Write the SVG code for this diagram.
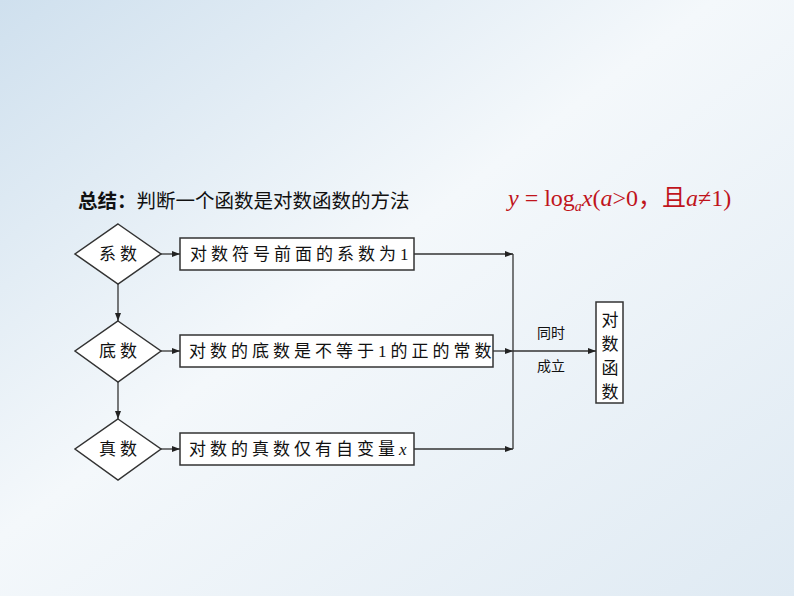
<svg xmlns="http://www.w3.org/2000/svg" width="794" height="596" viewBox="0 0 794 596">
<defs>
<linearGradient id="bg" x1="0" y1="0" x2="1" y2="1">
<stop offset="0" stop-color="#cfe0ee"/><stop offset="0.45" stop-color="#f4f8fb"/><stop offset="1" stop-color="#dfeaf3"/>
</linearGradient>
<marker id="ah" markerWidth="8" markerHeight="6" refX="8" refY="3" orient="auto" markerUnits="userSpaceOnUse"><path d="M0,0 L8,3 L0,6 Z" fill="#222"/></marker>
<style>
.s{fill:#fff;stroke:#333;stroke-width:1.5}
.t{font-family:"Liberation Serif","Noto Sans CJK SC",serif;font-size:17px;fill:#111;letter-spacing:4px}
.v{font-family:"Liberation Serif","Noto Sans CJK SC",serif;font-size:17px;fill:#111}
.c{stroke:#333;stroke-width:1.3;fill:none}
</style>
</defs>
<rect width="794" height="596" fill="url(#bg)"/>
<text x="78" y="208" font-family="'Noto Sans CJK SC',sans-serif" font-size="19.5" fill="#111"><tspan font-weight="bold">总结：</tspan>判断一个函数是对数函数的方法</text>
<text x="508" y="206" font-family="'Liberation Serif','Noto Sans CJK SC',serif" font-size="24" fill="#c0141c"><tspan font-style="italic">y</tspan> = log<tspan font-style="italic" font-size="14" dy="5">a</tspan><tspan font-style="italic" dy="-5">x</tspan>(<tspan font-style="italic">a</tspan>&gt;0，且<tspan font-style="italic">a</tspan>≠1)</text>
<g id="d1"><polygon class="s" points="118,224 161,254 118,284 75,254"/><text class="t" x="120" y="260" text-anchor="middle">系数</text></g>
<g id="d2"><polygon class="s" points="118,321 161,351 118,382 75,351"/><text class="t" x="120" y="357" text-anchor="middle">底数</text></g>
<g id="d3"><polygon class="s" points="118,419 161,449 118,480 75,449"/><text class="t" x="120" y="455" text-anchor="middle">真数</text></g>
<g id="b1"><rect class="s" x="180" y="238" width="234" height="32"/><text class="t" x="190" y="260">对数符号前面的系数为1</text></g>
<g id="b2"><rect class="s" x="180" y="335" width="313" height="32"/><text class="t" x="189" y="357" letter-spacing="3">对数的底数是不等于1的正的常数</text></g>
<g id="b3"><rect class="s" x="180" y="433" width="234" height="32"/><text class="t" x="189" y="455">对数的真数仅有自变量<tspan font-style="italic">x</tspan></text></g>
<g id="res"><rect class="s" x="596" y="302" width="27" height="101"/>
<text class="v" x="610" y="326" text-anchor="middle">对</text>
<text class="v" x="610" y="350" text-anchor="middle">数</text>
<text class="v" x="610" y="374" text-anchor="middle">函</text>
<text class="v" x="610" y="398" text-anchor="middle">数</text></g>
<g id="connectors">
<line class="c" x1="161" y1="254" x2="180" y2="254" marker-end="url(#ah)"/>
<line class="c" x1="161" y1="351" x2="180" y2="351" marker-end="url(#ah)"/>
<line class="c" x1="161" y1="449" x2="180" y2="449" marker-end="url(#ah)"/>
<line class="c" x1="118" y1="284" x2="118" y2="321" marker-end="url(#ah)"/>
<line class="c" x1="118" y1="382" x2="118" y2="419" marker-end="url(#ah)"/>
<line class="c" x1="414" y1="254" x2="513" y2="254" marker-end="url(#ah)"/>
<line class="c" x1="493" y1="351" x2="513" y2="351" marker-end="url(#ah)"/>
<line class="c" x1="414" y1="449" x2="513" y2="449" marker-end="url(#ah)"/>
<line class="c" x1="513" y1="254" x2="513" y2="449"/>
<line class="c" x1="513" y1="351" x2="596" y2="351" marker-end="url(#ah)"/>
</g>
<text x="551" y="338" text-anchor="middle" font-family="'Noto Sans CJK SC',sans-serif" font-size="14" fill="#111">同时</text>
<text x="551" y="371" text-anchor="middle" font-family="'Noto Sans CJK SC',sans-serif" font-size="14" fill="#111">成立</text>
</svg>
